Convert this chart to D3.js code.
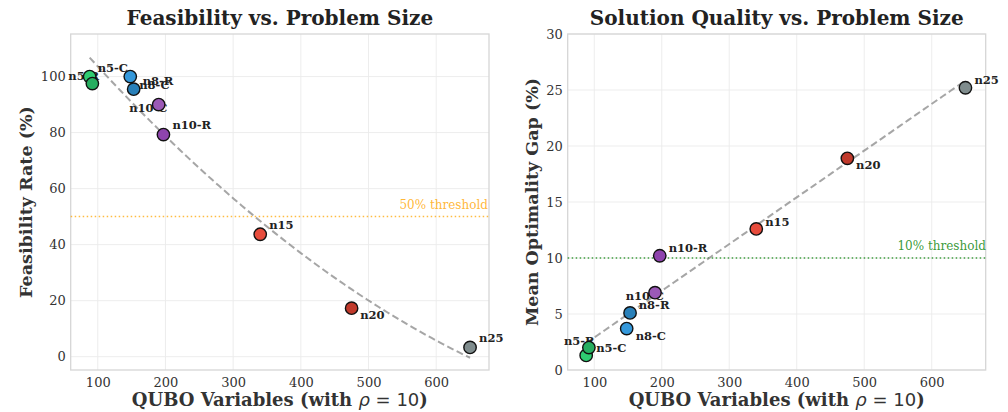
<!DOCTYPE html>
<html><head><meta charset="utf-8">
<script src="https://cdn.jsdelivr.net/npm/d3@7"></script>
<style>
html,body{margin:0;padding:0;background:#fff;}
svg{display:block;}
text{font-family:"DejaVu Serif",serif;}
</style></head>
<body>
<svg id="chart" width="1008" height="412"></svg>
<script>
// ---- data ----
const labels     = ["n5-C","n5-R","n8-C","n8-R","n10-C","n10-R","n15","n20","n25"];
const quboVars   = [88, 92, 148, 153, 190, 197, 340, 475, 650];
const feasibility= [100, 97.5, 100, 95.5, 90, 79.3, 43.7, 17.3, 3.3];
const optGap     = [1.3, 2.0, 3.7, 5.1, 6.9, 10.2, 12.6, 18.9, 25.2];
const colors     = ["#2ecc71","#27ae60","#3498db","#2980b9","#9b59b6","#8e44ad","#e74c3c","#c0392b","#7f8c8d"];
const xTicks     = [100, 200, 300, 400, 500, 600];
const feasTicks  = [0, 20, 40, 60, 80, 100];
const gapTicks   = [0, 5, 10, 15, 20, 25, 30];

// label offsets (px) per point, for each panel
const offL = [[8,-5],[-24,-4],[9,12],[9,-4.5],[-29.5,7.3],[9,-5.4],[9,-5],[8.6,11],[9,-5]];
const offR = [[10,-3],[-25,-3],[9,11.7],[8.7,-3.7],[-29.3,7],[9,-3.6],[9,-3],[8.7,11],[9,-4]];

function polyfit(xs, ys, deg){
  const n = deg+1;
  const A = Array.from({length:n},()=>Array(n+1).fill(0));
  for(let k=0;k<xs.length;k++){
    for(let i=0;i<n;i++){
      for(let j=0;j<n;j++) A[i][j]+=Math.pow(xs[k],i+j);
      A[i][n]+=ys[k]*Math.pow(xs[k],i);
    }
  }
  for(let i=0;i<n;i++){
    let p=i; for(let r=i+1;r<n;r++) if(Math.abs(A[r][i])>Math.abs(A[p][i])) p=r;
    [A[i],A[p]]=[A[p],A[i]];
    for(let r=0;r<n;r++){ if(r===i) continue; const f=A[r][i]/A[i][i]; for(let c=i;c<=n;c++) A[r][c]-=f*A[i][c]; }
  }
  return A.map((row,i)=>row[n]/row[i]); // c0, c1, ...
}

const svg = d3.select("#chart");

function panel(cfg){
  const g = svg.append("g");
  const x = d3.scaleLinear().domain(cfg.xdom).range([cfg.left, cfg.right]);
  const y = d3.scaleLinear().domain(cfg.ydom).range([cfg.bottom, cfg.top]);
  // grid
  g.append("g").selectAll("line").data(xTicks).join("line")
    .attr("x1",d=>x(d)).attr("x2",d=>x(d)).attr("y1",cfg.top).attr("y2",cfg.bottom)
    .attr("stroke","#ebebeb").attr("stroke-width",0.9);
  g.append("g").selectAll("line").data(cfg.yticks).join("line")
    .attr("y1",d=>y(d)).attr("y2",d=>y(d)).attr("x1",cfg.left).attr("x2",cfg.right)
    .attr("stroke","#ebebeb").attr("stroke-width",0.9);
  // axes (ticks only labels)
  const xa = g.append("g").attr("transform",`translate(0,${cfg.bottom})`)
    .call(d3.axisBottom(x).tickValues(xTicks).tickSize(0).tickPadding(5));
  const ya = g.append("g").attr("transform",`translate(${cfg.left},0)`)
    .call(d3.axisLeft(y).tickValues(cfg.yticks).tickSize(0).tickPadding(5));
  [xa,ya].forEach(a=>{
    a.select(".domain").remove();
    a.selectAll("text").attr("font-family","DejaVu Serif").attr("font-size",13).attr("fill","#333");
  });
  xa.selectAll("text").attr("dy","0.95em");
  // frame
  g.append("rect").attr("x",cfg.left).attr("y",cfg.top)
    .attr("width",cfg.right-cfg.left).attr("height",cfg.bottom-cfg.top)
    .attr("fill","none").attr("stroke","#d6d6d6").attr("stroke-width",1.3);
  // threshold
  g.append("line").attr("x1",cfg.left).attr("x2",cfg.right)
    .attr("y1",y(cfg.thr)).attr("y2",y(cfg.thr))
    .attr("stroke",cfg.thrColor).attr("stroke-opacity",0.75).attr("stroke-width",1.5)
    .attr("stroke-dasharray","1.5,2.5");
  g.append("text").attr("x",cfg.thrTextX).attr("y",y(cfg.thrTextY))
    .attr("text-anchor","end").attr("font-size",12).attr("fill",cfg.thrColor).attr("fill-opacity",0.8)
    .text(cfg.thrText);
  // trend
  const coef = polyfit(quboVars, cfg.vals, cfg.deg);
  const xmin = d3.min(quboVars), xmax = d3.max(quboVars);
  const pts = d3.range(0,101).map(i=>{const xv=xmin+(xmax-xmin)*i/100; return [xv, coef.reduce((s,c,k)=>s+c*Math.pow(xv,k),0)];});
  g.append("path").attr("d",d3.line().x(d=>x(d[0])).y(d=>y(d[1]))(pts))
    .attr("fill","none").attr("stroke","#808080").attr("stroke-opacity",0.7)
    .attr("stroke-width",2).attr("stroke-dasharray","7,3.5");
  // labels
  g.append("g").selectAll("text").data(labels).join("text")
    .attr("x",(d,i)=>x(quboVars[i])+cfg.off[i][0])
    .attr("y",(d,i)=>y(cfg.vals[i])+cfg.off[i][1])
    .attr("font-size",11.5).attr("font-weight","bold").attr("fill","#222")
    .text(d=>d);
  // markers
  g.append("g").selectAll("circle").data(labels).join("circle")
    .attr("cx",(d,i)=>x(quboVars[i])).attr("cy",(d,i)=>y(cfg.vals[i]))
    .attr("r",6.2).attr("fill",(d,i)=>colors[i]).attr("stroke","#111").attr("stroke-width",1.4);
  // title
  g.append("text").attr("x",(cfg.left+cfg.right)/2).attr("y",25)
    .attr("text-anchor","middle").attr("font-size",20).attr("font-weight","bold").attr("fill","#222")
    .text(cfg.title);
  // x label
  const xl = g.append("text").attr("x",(cfg.left+cfg.right)/2).attr("y",406)
    .attr("text-anchor","middle").attr("font-size",18).attr("font-weight","bold").attr("fill","#333");
  xl.append("tspan").text("QUBO Variables (with ");
  xl.append("tspan").attr("font-family","DejaVu Sans").attr("font-style","italic").attr("font-weight","normal").text("ρ");
  xl.append("tspan").attr("font-family","DejaVu Sans").attr("font-weight","normal").text(" = 10");
  xl.append("tspan").text(")");
  // y label
  g.append("text").attr("transform",`translate(${cfg.ylabX},${(cfg.top+cfg.bottom)/2}) rotate(-90)`)
    .attr("text-anchor","middle").attr("dy","0.35em").attr("font-size",17.5).attr("font-weight","bold").attr("fill","#333")
    .text(cfg.ylabel);
}

panel({left:70.7,right:489,top:34,bottom:370,xdom:[60,678],ydom:[-4.76,115.2],yticks:feasTicks,
  vals:feasibility,deg:2,off:offL,thr:50,thrColor:"orange",thrText:"50% threshold",thrTextX:488,thrTextY:52.6,
  title:"Feasibility vs. Problem Size",ylabel:"Feasibility Rate (%)",ylabX:26});
panel({left:567.7,right:985.7,top:34,bottom:370,xdom:[60.6,680],ydom:[0,30],yticks:gapTicks,
  vals:optGap,deg:1,off:offR,thr:10,thrColor:"green",thrText:"10% threshold",thrTextX:986,thrTextY:10.7,
  title:"Solution Quality vs. Problem Size",ylabel:"Mean Optimality Gap (%)",ylabX:532});
</script>
</body></html>
